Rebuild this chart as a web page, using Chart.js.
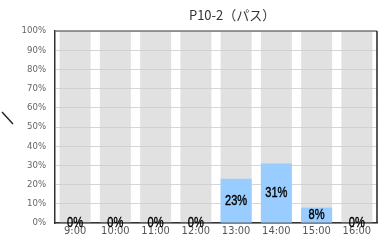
<!DOCTYPE html>
<html>
<head>
<meta charset="utf-8">
<script src="https://cdn.jsdelivr.net/npm/chart.js@4/dist/chart.umd.min.js"></script>
<style>
  html, body { margin: 0; padding: 0; background: #fff; }
  #wrap { width: 383px; height: 240px; position: relative; }
</style>
</head>
<body>
<div id="wrap"><canvas id="barChart"></canvas></div>
<script>
// chart data
var chartTitle = "P10-2（パス）";
var hours = ["9:00", "10:00", "11:00", "12:00", "13:00", "14:00", "15:00", "16:00"];
var usage = [0, 0, 0, 0, 23, 31, 8, 0];
var capacity = [100, 100, 100, 100, 100, 100, 100, 100];
var yTicks = [0, 10, 20, 30, 40, 50, 60, 70, 80, 90, 100];

var NARROW = "'DejaVu Sans Condensed', 'Liberation Sans', sans-serif";

// frame, title, value labels and the stray stroke on the left
var extras = {
    id: 'extras',
    afterDatasetsDraw: function (chart) {
        var ctx = chart.ctx;
        var a = chart.chartArea;
        ctx.save();
        // value labels, centred in each bar, squeezed horizontally
        ctx.font = "15px 'Liberation Sans', sans-serif";
        ctx.fillStyle = "#000";
        ctx.strokeStyle = "#000";
        ctx.lineWidth = 0.4;
        ctx.textAlign = "center";
        ctx.textBaseline = "middle";
        chart.getDatasetMeta(0).data.forEach(function (bar, i) {
            ctx.save();
            ctx.translate(bar.x, (bar.y + bar.base) / 2);
            ctx.scale(0.74, 1.02);
            ctx.fillText(usage[i] + "%", 0, 0);
            ctx.strokeText(usage[i] + "%", 0, 0);
            ctx.restore();
        });
        // top and right frame
        ctx.lineWidth = 1.5;
        ctx.strokeStyle = "#777";
        ctx.beginPath();
        ctx.moveTo(a.left, a.top);
        ctx.lineTo(a.right, a.top);
        ctx.stroke();
        ctx.strokeStyle = "#222";
        ctx.beginPath();
        ctx.moveTo(a.right, a.top);
        ctx.lineTo(a.right, a.bottom);
        ctx.stroke();
        // title
        ctx.font = "13px 'Noto Sans CJK JP', sans-serif";
        ctx.fillStyle = "#333";
        ctx.fillText(chartTitle, a.left + a.width * 0.55, 15);
        // stray stroke
        ctx.strokeStyle = "#222";
        ctx.lineWidth = 1.4;
        ctx.beginPath();
        ctx.moveTo(2, 112);
        ctx.lineTo(13, 124);
        ctx.stroke();
        ctx.restore();
    }
};

new Chart(document.getElementById("barChart"), {
    type: "bar",
    data: {
        labels: hours,
        datasets: [{
            label: "usage",
            data: usage,
            backgroundColor: "#99ccff",
            order: 1
        }, {
            label: "capacity",
            data: capacity,
            backgroundColor: "rgba(205, 205, 205, 0.6)",
            order: 2
        }]
    },
    options: {
        responsive: true,
        maintainAspectRatio: false,
        animation: false,
        events: [],
        layout: { padding: { top: 31, right: 6, left: 0, bottom: 0 } },
        datasets: {
            bar: { grouped: false, barPercentage: 0.77, categoryPercentage: 1 }
        },
        plugins: {
            legend: { display: false },
            title: { display: false },
            tooltip: { enabled: false }
        },
        scales: {
            x: {
                grid: { display: false, drawTicks: false },
                border: { display: true, color: "#333", width: 1.5 },
                ticks: {
                    color: "#555",
                    font: { family: NARROW, size: 11 },
                    padding: 2,
                    maxRotation: 0,
                    autoSkip: false
                },
                afterFit: function (s) { s.height = 17; }
            },
            y: {
                min: 0,
                max: 100,
                afterBuildTicks: function (s) {
                    s.ticks = yTicks.map(function (v) { return { value: v }; });
                },
                grid: { color: "#d6d6d6", drawTicks: false },
                border: { display: true, color: "#333", width: 1.5 },
                ticks: {
                    color: "#666",
                    font: { family: NARROW, size: 9.5 },
                    padding: 9,
                    callback: function (v) { return v + "%"; }
                },
                afterFit: function (s) { s.width = 55; }
            }
        }
    },
    plugins: [extras]
});
</script>
</body>
</html>
